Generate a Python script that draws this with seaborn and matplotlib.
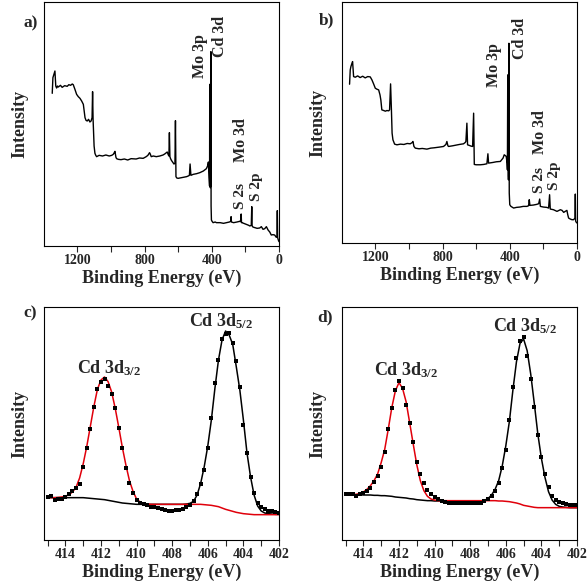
import seaborn as sns
import matplotlib.pyplot as plt
from matplotlib.ticker import MultipleLocator

# --- survey spectra (binding energy in eV, intensity in a.u.) ---
survey_a_be = [1349, 1345, 1341, 1337, 1333, 1328, 1323, 1318, 1313, 1300,
               1290, 1275, 1260, 1250, 1240, 1230, 1224, 1214, 1204, 1194,
               1184, 1174, 1164, 1158, 1154, 1148, 1141, 1133, 1125, 1118,
               1112, 1109, 1106, 1100, 1095, 1090, 1085, 1070, 1050, 1030,
               1010, 995, 986, 980, 976, 970, 966, 956, 940, 920,
               900, 880, 850, 830, 808, 790, 780, 770, 766, 760,
               748, 730, 709, 690, 680, 670, 665, 659, 655, 652,
               649, 645, 640, 630, 625, 619, 616, 613, 608, 600,
               590, 570, 550, 540, 533, 529, 524, 510, 490, 471,
               450, 432, 425, 420, 416, 413, 412, 411, 409, 407,
               406, 405, 404, 402, 398, 392, 380, 372, 350, 330,
               313, 295, 287, 285, 283, 270, 250, 234, 230, 227,
               225, 223, 220, 200, 180, 174, 165, 162, 160, 158,
               150, 130, 115, 105, 95, 85, 75, 65, 55, 46,
               36, 26, 16, 12, 10, 8, 4, 0]
survey_a_int = [458, 505, 512, 520, 525, 480, 474, 480, 477, 482,
                476, 481, 479, 484, 482, 486, 484, 470, 455, 448,
                443, 435, 425, 400, 385, 377, 375, 380, 372, 375,
                385, 463, 380, 300, 278, 272, 268, 272, 270, 273,
                270, 272, 275, 280, 284, 266, 262, 260, 259, 261,
                258, 262, 261, 264, 263, 268, 272, 280, 276, 268,
                270, 268, 270, 273, 276, 280, 282, 274, 270, 340,
                268, 262, 257, 250, 246, 248, 376, 208, 204, 203,
                204, 206, 208, 210, 212, 246, 212, 215, 217, 220,
                225, 232, 240, 252, 205, 180, 485, 190, 175, 178,
                200, 583, 120, 78, 74, 70, 72, 70, 70, 68,
                70, 72, 74, 88, 72, 70, 72, 74, 73, 80,
                96, 70, 70, 66, 62, 60, 62, 118, 62, 58,
                56, 53, 54, 58, 50, 52, 58, 48, 42, 33,
                34, 33, 26, 28, 106, 25, 18, 13]

survey_b_be = [1353, 1349, 1345, 1340, 1335, 1329, 1319, 1305, 1290, 1275,
               1260, 1245, 1230, 1220, 1210, 1200, 1190, 1180, 1172, 1167,
               1161, 1150, 1140, 1131, 1120, 1115, 1109, 1104, 1100, 1095,
               1085, 1071, 1050, 1030, 1010, 992, 980, 976, 970, 962,
               940, 920, 893, 870, 850, 820, 794, 780, 774, 768,
               764, 740, 720, 700, 675, 665, 661, 655, 651, 640,
               630, 621, 615, 611, 600, 575, 555, 536, 530, 526,
               500, 480, 456, 440, 433, 425, 421, 416, 414, 412,
               410, 408, 406, 405, 403, 400, 393, 377, 360, 340,
               320, 298, 288, 284, 280, 260, 240, 228, 222, 218,
               200, 180, 169, 163, 159, 140, 119, 99, 89, 79,
               70, 60, 55, 50, 40, 30, 20, 12, 10, 8,
               4, 0]
survey_b_int = [477, 520, 530, 538, 545, 500, 498, 502, 497, 501,
                496, 500, 499, 490, 478, 465, 462, 460, 445, 430,
                400, 398, 396, 398, 397, 400, 478, 400, 330, 310,
                297, 295, 297, 296, 299, 298, 302, 305, 290, 285,
                283, 284, 282, 285, 286, 288, 290, 296, 305, 292,
                290, 292, 294, 296, 298, 302, 305, 360, 295, 293,
                291, 290, 390, 236, 235, 235, 236, 238, 268, 240,
                242, 244, 245, 255, 265, 262, 260, 240, 220, 505,
                200, 190, 200, 600, 150, 115, 110, 105, 107, 108,
                110, 110, 112, 130, 113, 114, 116, 118, 132, 110,
                108, 107, 105, 145, 102, 100, 95, 100, 98, 92,
                95, 98, 85, 75, 72, 70, 70, 75, 147, 66,
                62, 60]

# --- Cd 3d high resolution (binding energy in eV) ---
cd_be = [415.0, 414.8, 414.6, 414.4, 414.2, 414.0, 413.8, 413.6, 413.4, 413.2,
         413.0, 412.8, 412.6, 412.4, 412.2, 412.0, 411.8, 411.6, 411.4, 411.2,
         411.0, 410.8, 410.6, 410.4, 410.2, 410.0, 409.8, 409.6, 409.4, 409.2,
         409.0, 408.8, 408.6, 408.4, 408.2, 408.0, 407.8, 407.6, 407.4, 407.2,
         407.0, 406.8, 406.6, 406.4, 406.2, 406.0, 405.8, 405.6, 405.4, 405.2,
         405.0, 404.8, 404.6, 404.4, 404.2, 404.0, 403.8, 403.6, 403.4, 403.2,
         403.0, 402.8, 402.6, 402.4, 402.2, 402.0]

c_counts = [130, 133, 120, 124, 123, 128, 137, 146, 155, 168,
            218, 275, 334, 400, 452, 473, 484, 462, 437, 395,
            336, 276, 217, 172, 140, 121, 111, 108, 104, 100,
            98, 96, 93, 89, 88, 88, 89, 91, 94, 99,
            106, 117, 138, 168, 210, 275, 365, 470, 540, 602,
            618, 622, 592, 537, 458, 345, 260, 188, 140, 112,
            98, 92, 88, 86, 83, 81]
c_fit_52 = [127, 127, 127, 127, 127, 127, 127, 127, 127, 127,
            127, 126, 125, 124, 123, 122, 121, 119, 117, 115,
            113, 111, 110, 109, 108, 107, 107, 107, 107, 107,
            107, 107, 107, 107, 107, 107, 107, 107, 107, 108,
            110, 116, 135, 170, 220, 282, 360, 455, 540, 600,
            627, 615, 587, 520, 450, 360, 262, 190, 135, 102,
            87, 81, 79, 78, 77, 77]
c_fit_32 = [127, 127, 127, 128, 129, 131, 136, 144, 158, 186,
            228, 280, 340, 400, 452, 480, 489, 475, 444, 395,
            338, 278, 225, 178, 146, 123, 114, 110, 108, 107,
            107, 107, 107, 107, 107, 107, 107, 107, 107, 107,
            107, 107, 107, 107, 106, 105, 104, 102, 100, 96,
            92, 89, 86, 83, 81, 79, 78, 77, 76, 76,
            76, 76, 76, 76, 76, 76]

d_counts = [137, 139, 139, 133, 139, 141, 146, 156, 175, 192,
            220, 265, 332, 395, 450, 478, 456, 406, 350, 294,
            235, 199, 170, 150, 137, 128, 122, 116, 113, 112,
            111, 110, 110, 110, 110, 110, 110, 111, 112, 116,
            123, 132, 147, 172, 215, 270, 360, 460, 545, 596,
            610, 552, 482, 400, 315, 250, 197, 160, 132, 120,
            115, 112, 108, 106, 105, 104]
d_fit_52 = [136, 136, 136, 136, 136, 135, 135, 135, 134, 134,
            133, 133, 132, 131, 129, 128, 127, 126, 124, 123,
            121, 120, 119, 118, 118, 117, 117, 117, 117, 117,
            117, 117, 117, 117, 117, 117, 117, 117, 117, 119,
            124, 135, 152, 178, 222, 282, 355, 450, 535, 590,
            603, 568, 498, 410, 318, 245, 188, 145, 120, 107,
            101, 99, 98, 97, 97, 97]
d_fit_32 = [135, 135, 136, 137, 140, 144, 152, 163, 178, 198,
            232, 272, 333, 398, 448, 472, 455, 415, 352, 288,
            226, 178, 148, 131, 123, 120, 118, 118, 118, 118,
            118, 118, 118, 118, 118, 118, 118, 118, 118, 118,
            118, 118, 118, 117, 117, 116, 115, 113, 111, 108,
            104, 102, 100, 98, 97, 97, 97, 97, 97, 97,
            97, 97, 97, 97, 97, 97]

# --- style ---
sns.set_style("ticks")
plt.rcParams['font.family'] = ['Liberation Serif', 'DejaVu Serif']
plt.rcParams['font.weight'] = 'bold'
plt.rcParams['axes.labelweight'] = 'bold'
plt.rcParams['mathtext.fontset'] = 'custom'
plt.rcParams['mathtext.rm'] = 'Liberation Serif:bold'
plt.rcParams['mathtext.it'] = 'Liberation Serif:bold'
plt.rcParams['mathtext.bf'] = 'Liberation Serif:bold'

fig = plt.figure(figsize=(5.88, 5.88), dpi=100)
SZ = 588.0


def box(left, top, right, bottom):
    return [left / SZ, 1 - bottom / SZ, (right - left) / SZ, (bottom - top) / SZ]


def style(ax, xlim, ylim, major, minor):
    ax.set_xlim(*xlim)
    ax.set_ylim(*ylim)
    ax.xaxis.set_major_locator(MultipleLocator(major))
    ax.xaxis.set_minor_locator(MultipleLocator(minor))
    ax.set_yticks([])
    ax.tick_params(axis='x', which='both', direction='out', length=4,
                   width=0.8, labelsize=10, pad=2, top=False)
    for s in ax.spines.values():
        s.set_visible(True)
        s.set_linewidth(0.8)
        s.set_color('black')
    ax.set_xlabel('Binding Energy (eV)', fontsize=13, labelpad=2)
    ax.set_ylabel('Intensity', fontsize=13, labelpad=11)


# survey panels
ax_a = fig.add_axes(box(44, 2, 279, 246))
ax_b = fig.add_axes(box(342, 2, 577, 243))
for ax, be, inten, ytop in [(ax_a, survey_a_be, survey_a_int, 732),
                            (ax_b, survey_b_be, survey_b_int, 724)]:
    sns.lineplot(x=be, y=inten, ax=ax, color='black', lw=1.0,
                 sort=False, estimator=None)
    style(ax, (1398, 0), (0, ytop), 400, 200)

lab = dict(rotation=90, ha='center', va='center', fontsize=11.5, fontweight='bold')
small = dict(lab, fontsize=11)
ax_a.text(468, 570, 'Mo 3p', **lab)
ax_a.text(352, 630, 'Cd 3d', **lab)
ax_a.text(228, 318, 'Mo 3d', **lab)
ax_a.text(230, 150, 'S 2s', **small)
ax_a.text(134, 178, 'S 2p', **small)
ax_b.text(491, 535, 'Mo 3p', **lab)
ax_b.text(342, 616, 'Cd 3d', **lab)
ax_b.text(223, 334, 'Mo 3d', **lab)
ax_b.text(226, 190, 'S 2s', **small)
ax_b.text(136, 202, 'S 2p', **small)

# Cd 3d panels
ax_c = fig.add_axes(box(44, 307, 279, 540))
ax_d = fig.add_axes(box(342, 307, 577, 540))
for ax, counts, f52, f32 in [(ax_c, c_counts, c_fit_52, c_fit_32),
                             (ax_d, d_counts, d_fit_52, d_fit_32)]:
    sns.lineplot(x=cd_be, y=f52, ax=ax, color='black', lw=1.1,
                 sort=False, estimator=None, zorder=2)
    sns.lineplot(x=cd_be, y=f32, ax=ax, color='#e0000b', lw=1.1,
                 sort=False, estimator=None, zorder=3)
    sns.scatterplot(x=cd_be, y=counts, ax=ax, color='black', marker='s',
                    s=5, linewidth=0, zorder=4)
    style(ax, (415.2, 402), (0, 699), 2, 1)

pk = dict(ha='left', va='baseline', fontsize=13, fontweight='bold')
ax_c.text(413.37, 501, r'Cd 3d$_{3/2}$', **pk)
ax_c.text(407.06, 640, r'Cd 3d$_{5/2}$', **pk)
ax_d.text(413.38, 493, r'Cd 3d$_{3/2}$', **pk)
ax_d.text(406.73, 626, r'Cd 3d$_{5/2}$', **pk)

# panel letters
for letter, x, y in [('a)', 23, 15), ('b)', 319, 12), ('c)', 23, 305), ('d)', 317, 309)]:
    fig.text(x / SZ, 1 - y / SZ, letter, fontsize=12.5, fontweight='bold',
             ha='left', va='top')

fig.savefig('out.png', dpi=100)
